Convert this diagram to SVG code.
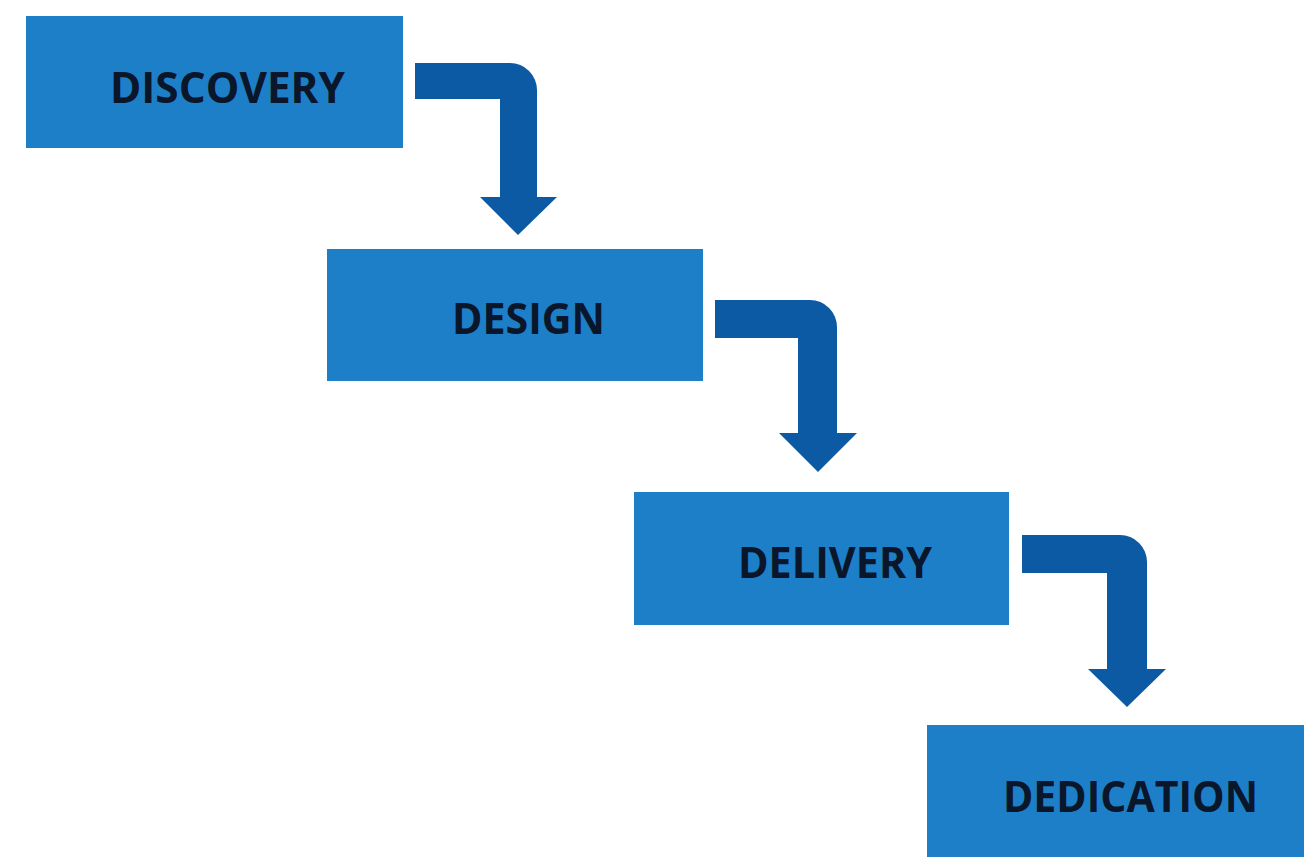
<svg xmlns="http://www.w3.org/2000/svg" width="1307" height="864" viewBox="0 0 1307 864">
  <style>
    .box { fill: #1e7fc9; }
    .label { font-family: "Open Sans", "Noto Sans", "Liberation Sans", sans-serif; font-weight: 700; font-size: 43px; fill: #0a1629; }
    .flow { fill: #0b5aa3; }
  </style>
  <rect width="1307" height="864" fill="#ffffff"/>

  <g id="connectors">
    <path class="flow" d="M415,63 H510 A27,27 0 0 1 537,90 V197 H557 L518,235 L480,197 H500 V99 H415 Z"/>
    <path class="flow" d="M715,300 H810 A27,27 0 0 1 837,327 V433 H857 L818,472 L779,433 H798 V338 H715 Z"/>
    <path class="flow" d="M1022,535 H1120 A27,27 0 0 1 1147,562 V669 H1166 L1127,707 L1088,669 H1107 V573 H1022 Z"/>
  </g>

  <g id="discovery">
    <rect class="box" x="26" y="16" width="377" height="132"/>
    <text class="label" x="110" y="103" textLength="235" lengthAdjust="spacingAndGlyphs">DISCOVERY</text>
  </g>
  <g id="design">
    <rect class="box" x="327" y="249" width="376" height="132"/>
    <text class="label" x="452" y="334" textLength="153" lengthAdjust="spacingAndGlyphs">DESIGN</text>
  </g>
  <g id="delivery">
    <rect class="box" x="634" y="492" width="375" height="133"/>
    <text class="label" x="738" y="578" textLength="194" lengthAdjust="spacingAndGlyphs">DELIVERY</text>
  </g>
  <g id="dedication">
    <rect class="box" x="927" y="725" width="377" height="132"/>
    <text class="label" x="1003" y="812" textLength="255" lengthAdjust="spacingAndGlyphs">DEDICATION</text>
  </g>
</svg>
